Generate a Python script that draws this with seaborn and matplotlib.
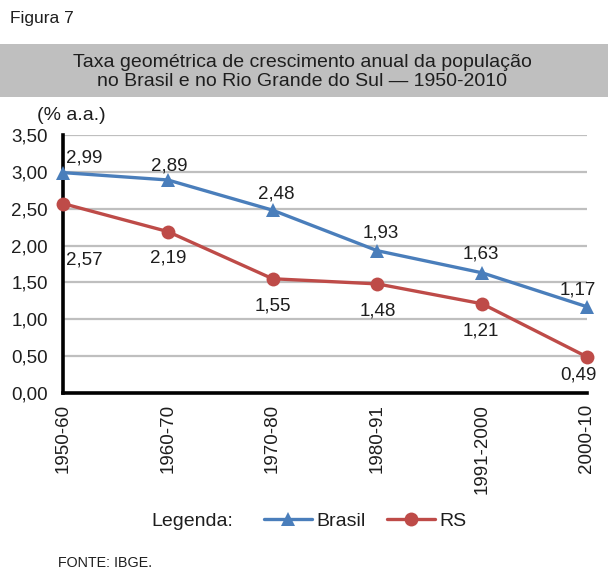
import matplotlib
matplotlib.use("Agg")
import matplotlib.pyplot as plt
import seaborn as sns
import pandas as pd
from matplotlib.lines import Line2D
from matplotlib.patches import Rectangle

periods = ["1950-60", "1960-70", "1970-80", "1980-91", "1991-2000", "2000-10"]
brasil = [2.99, 2.89, 2.48, 1.93, 1.63, 1.17]
rs = [2.57, 2.19, 1.55, 1.48, 1.21, 0.49]
yticks = [0, 0.5, 1.0, 1.5, 2.0, 2.5, 3.0, 3.5]

BLUE = "#4A7EBB"
RED = "#BE4B48"
TXT = "#1E1E1E"
FS = 13.5

sns.set_style("white")
plt.rcParams["font.family"] = ["Liberation Sans", "DejaVu Sans"]

df = pd.DataFrame({
    "x": list(range(len(periods))) * 2,
    "v": brasil + rs,
    "s": ["Brasil"] * len(periods) + ["RS"] * len(periods),
})

fig = plt.figure(figsize=(6.08, 5.71), dpi=100)
ax = fig.add_axes([63 / 608, 1 - 393 / 571, 524 / 608, 258 / 571])

# grid
for t in yticks[1:]:
    ax.axhline(t, color="#BFBFBF", lw=1.6, zorder=0)

sns.lineplot(data=df, x="x", y="v", hue="s", style="s",
             palette={"Brasil": BLUE, "RS": RED},
             markers={"Brasil": "^", "RS": "o"}, dashes=False,
             markersize=10, markeredgewidth=0, linewidth=2.4,
             legend=False, ax=ax, clip_on=False, zorder=3)

ax.set_xlim(0, 5)
ax.set_ylim(0, 3.5)
ax.set_yticks(yticks)
ax.set_yticklabels([f"{t:.2f}".replace(".", ",") for t in yticks], fontsize=FS)
ax.set_xticks(range(len(periods)))
ax.set_xticklabels(periods, rotation=90, fontsize=FS)
ax.set_xlabel("")
ax.set_ylabel("")
for s in ["top", "right"]:
    ax.spines[s].set_visible(False)
for s in ["left", "bottom"]:
    ax.spines[s].set_linewidth(2.6)
    ax.spines[s].set_color("black")
ax.tick_params(axis="both", direction="out", length=4, width=2.6, color="black",
               labelcolor=TXT)
ax.tick_params(axis="y", pad=7)
ax.tick_params(axis="x", pad=4)

# data labels
b_off = [(15, 10.5), (1, 10), (2.5, 12), (2.5, 12.5), (-1, 13.5), (-6.5, 12)]
r_off = [(15, -40.5), (0, -19), (0, -19.5), (0, -19.5), (-1, -19.5), (-6.5, -13)]
for i, v in enumerate(brasil):
    ax.annotate(f"{v:.2f}".replace(".", ","), (i, v), xytext=b_off[i],
                textcoords="offset points", ha="center", va="center",
                fontsize=FS, color=TXT, zorder=5)
for i, v in enumerate(rs):
    ax.annotate(f"{v:.2f}".replace(".", ","), (i, v), xytext=r_off[i],
                textcoords="offset points", ha="center", va="center",
                fontsize=FS, color=TXT, zorder=5)

# title box
fig.patches.append(Rectangle((0, 1 - 97 / 571), 1, 53 / 571, transform=fig.transFigure,
                             facecolor="#BFBFBF", edgecolor="none", zorder=0))
fig.text(302 / 608, 1 - 72 / 571,
         "Taxa geométrica de crescimento anual da população\nno Brasil e no Rio Grande do Sul — 1950-2010",
         ha="center", va="center", fontsize=14, color=TXT, linespacing=1.1)
fig.text(10 / 608, 1 - 18 / 571, "Figura 7", ha="left", va="center", fontsize=12.5, color=TXT)
fig.text(37 / 608, 1 - 116 / 571, "(% a.a.)", ha="left", va="center", fontsize=14, color=TXT)
fig.text(58 / 608, 1 - 563 / 571, "FONTE: IBGE.", ha="left", va="center", fontsize=10.3, color=TXT)

# legend
fig.text(151 / 608, 1 - 521 / 571, "Legenda:", ha="left", va="center", fontsize=14, color=TXT)
handles = [Line2D([], [], color=BLUE, marker="^", markersize=10, markeredgewidth=0, lw=2.4),
           Line2D([], [], color=RED, marker="o", markersize=10, markeredgewidth=0, lw=2.4)]
fig.legend(handles, ["Brasil", "RS"], loc="center left",
           bbox_to_anchor=(246 / 608, 1 - 521 / 571), ncol=2, frameon=False,
           fontsize=14, handlelength=2.5, handletextpad=0.2, columnspacing=1.1,
           labelcolor=TXT)

fig.savefig("out.png", dpi=100)
